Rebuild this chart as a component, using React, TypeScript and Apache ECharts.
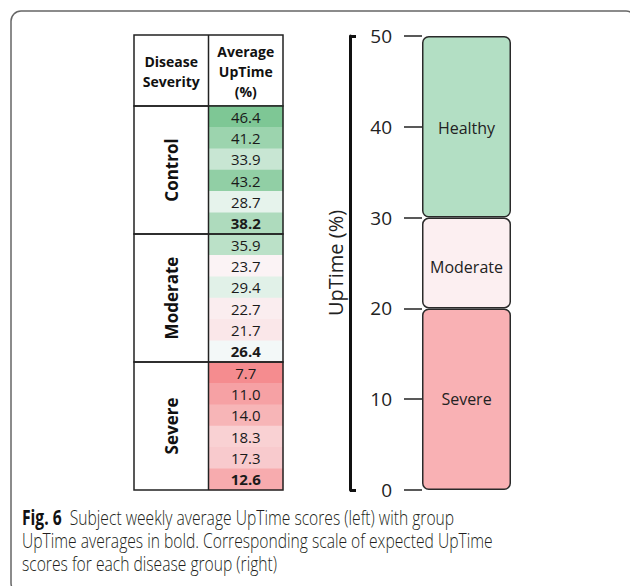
import React, { useEffect, useRef } from 'react';
import * as echarts from 'echarts';

// ---------- data ----------
const groupNames = ['Control', 'Moderate', 'Severe'];
const controlSubjects = [46.4, 41.2, 33.9, 43.2, 28.7];
const controlAverage = 38.2;
const moderateSubjects = [35.9, 23.7, 29.4, 22.7, 21.7];
const moderateAverage = 26.4;
const severeSubjects = [7.7, 11.0, 14.0, 18.3, 17.3];
const severeAverage = 12.6;

const tableHeaders = ['Disease\nSeverity', 'Average\nUpTime\n(%)'];

const scaleNames = ['Severe', 'Moderate', 'Healthy'];
const scaleBounds = [0, 20, 30, 50];
const scaleColors = ['#F9B1B4', '#FCEFF1', '#B3DFC4'];
const scaleLabelOffsets = [0, 4, 1];
const scaleAxisMin = 0;
const scaleAxisMax = 50;
const scaleAxisInterval = 10;
const scaleAxisName = 'UpTime (%)';

const captionBold = 'Fig. 6';
const captionLines = [
  'Subject weekly average UpTime scores (left) with group',
  'UpTime averages in bold. Corresponding scale of expected UpTime',
  'scores for each disease group (right)',
];

// ---------- helpers ----------
const FONT = '"Open Sans", "Noto Sans", sans-serif';
const hex = (c: string) => [1, 3, 5].map((i) => parseInt(c.slice(i, i + 2), 16));
const mix = (a: string, b: string, t: number) => {
  const A = hex(a), B = hex(b);
  return 'rgb(' + A.map((v, i) => Math.round(v + (B[i] - v) * t)).join(',') + ')';
};
const measure = (text: string, font: string) => {
  const ctx = document.createElement('canvas').getContext('2d')!;
  ctx.font = font;
  return ctx.measureText(text).width;
};

export default function App() {
  const ref = useRef<HTMLDivElement>(null);
  useEffect(() => {
    const chart = echarts.init(ref.current!, null, { renderer: 'svg' });

    const groups = [
      { name: groupNames[0], subjects: controlSubjects, average: controlAverage },
      { name: groupNames[1], subjects: moderateSubjects, average: moderateAverage },
      { name: groupNames[2], subjects: severeSubjects, average: severeAverage },
    ];
    const rows: { v: number; bold: boolean }[] = [];
    const ranges: { name: string; start: number; end: number }[] = [];
    groups.forEach((g) => {
      const start = rows.length;
      g.subjects.forEach((v) => rows.push({ v, bold: false }));
      rows.push({ v: g.average, bold: true });
      ranges.push({ name: g.name, start, end: rows.length - 1 });
    });
    const vals = rows.map((r) => r.v);
    const vMin = Math.min(...vals);
    const vMax = Math.max(...vals);
    const sorted = [...vals].sort((a, b) => a - b);
    const n = sorted.length;
    const median = n % 2 ? sorted[(n - 1) / 2] : (sorted[n / 2 - 1] + sorted[n / 2]) / 2;
    const RED = '#F58C8F', WHITE = '#FBFCFE', GREEN = '#7EC795';
    const stops: string[] = [];
    const N = 80;
    for (let i = 0; i <= N; i++) {
      const v = vMin + ((vMax - vMin) * i) / N;
      stops.push(v < median ? mix(RED, WHITE, (v - vMin) / (median - vMin)) : mix(WHITE, GREEN, (v - median) / (vMax - median)));
    }

    const capSize = 21;
    const capFont = `300 ${capSize}px "Open Sans"`;
    const capScale = 471 / measure(captionLines[1], capFont);

    const scaleSizes = scaleNames.map((_, i) => scaleBounds[i + 1] - scaleBounds[i]);

    const option: any = {
      animation: false,
      backgroundColor: '#ffffff',
      grid: [
        { left: 134, top: 106, width: 149, height: 384 },
        { left: 422, top: 36, width: 89, height: 454 },
      ],
      xAxis: [
        {
          gridIndex: 0,
          type: 'category',
          position: 'top',
          data: tableHeaders,
          axisLine: { show: false },
          axisTick: { show: false },
          axisLabel: {
            interval: 0,
            margin: 35,
            verticalAlign: 'middle',
            fontSize: 14,
            fontWeight: 'bold',
            lineHeight: 20,
            color: '#111',
            fontFamily: FONT,
          },
        },
        { gridIndex: 1, type: 'category', data: ['scale'], show: false },
      ],
      yAxis: [
        { gridIndex: 0, type: 'category', inverse: true, data: rows.map((_, i) => String(i)), show: false },
        {
          gridIndex: 1,
          type: 'value',
          min: scaleAxisMin,
          max: scaleAxisMax,
          interval: scaleAxisInterval,
          axisLine: { show: false },
          axisTick: { show: true, length: 18, lineStyle: { color: '#222', width: 1.5 } },
          axisLabel: { margin: 30, fontSize: 19, color: '#222', fontFamily: FONT },
          splitLine: { show: false },
        },
        {
          gridIndex: 1,
          type: 'value',
          position: 'left',
          offset: 72,
          min: scaleAxisMin,
          max: scaleAxisMax,
          interval: scaleAxisInterval,
          axisLine: { show: true, lineStyle: { color: '#111', width: 3 } },
          axisTick: { show: true, inside: true, length: 6, customValues: [scaleAxisMin, scaleAxisMax], lineStyle: { color: '#111', width: 3 } },
          axisLabel: { show: false },
          splitLine: { show: false },
          name: scaleAxisName,
          nameLocation: 'middle',
          nameGap: 5,
          nameTextStyle: { fontSize: 20, color: '#222', fontFamily: FONT },
        },
      ],
      visualMap: {
        show: false,
        type: 'continuous',
        seriesIndex: 0,
        dimension: 2,
        min: vMin,
        max: vMax,
        inRange: { color: stops },
      },
      series: [
        {
          type: 'heatmap',
          xAxisIndex: 0,
          yAxisIndex: 0,
          data: rows.map((r, i) => ({ value: [1, i, r.v], label: { fontWeight: r.bold ? 'bold' : 'normal' } })),
          label: {
            show: true,
            formatter: (p: any) => p.value[2].toFixed(1),
            fontSize: 15,
            color: '#1a1a1a',
            fontFamily: FONT,
          },
          itemStyle: { borderWidth: 0 },
          emphasis: { disabled: true },
        },
        {
          type: 'custom',
          xAxisIndex: 0,
          yAxisIndex: 0,
          z: 5,
          data: ranges.map((r) => ({ name: r.name, value: [0, r.start, r.end] })),
          renderItem: (params: any, api: any) => {
            const start = api.value(1);
            const end = api.value(2);
            const c0 = api.coord([0, start]);
            const c1 = api.coord([0, end]);
            const size = api.size([1, 1]);
            const w = size[0], h = size[1];
            const left = c0[0] - w / 2;
            const top = c0[1] - h / 2;
            const bottom = c1[1] + h / 2;
            return {
              type: 'group',
              children: [
                { type: 'rect', shape: { x: left, y: top, width: 2 * w, height: bottom - top }, style: { fill: 'none', stroke: '#222', lineWidth: 1.5 } },
                { type: 'line', shape: { x1: left + w, y1: top, x2: left + w, y2: bottom }, style: { stroke: '#222', lineWidth: 1.5 } },
                {
                  type: 'text',
                  x: c0[0],
                  y: (top + bottom) / 2,
                  rotation: Math.PI / 2,
                  style: {
                    text: ranges[params.dataIndex].name,
                    fontSize: 17,
                    fontWeight: 'bold',
                    fontFamily: FONT,
                    fill: '#111',
                    align: 'center',
                    verticalAlign: 'middle',
                  },
                },
              ],
            };
          },
        },
        ...scaleNames.map((name, i) => ({
          type: 'bar',
          name,
          xAxisIndex: 1,
          yAxisIndex: 1,
          stack: 'scale',
          barWidth: '100%',
          data: [scaleSizes[i]],
          itemStyle: { color: scaleColors[i], borderColor: '#2a2a2a', borderWidth: 1.5, borderRadius: 6 },
          label: { show: true, position: 'inside', offset: [0, scaleLabelOffsets[i]], formatter: name, fontSize: 16, color: '#222', fontFamily: FONT },
          emphasis: { disabled: true },
        })),
      ],
      graphic: [
        {
          type: 'rect',
          z: -10,
          shape: { x: 11, y: 11, width: 625, height: 582, r: 10 },
          style: { fill: 'none', stroke: '#666', lineWidth: 1.5 },
        },
        {
          type: 'rect',
          shape: { x: 134, y: 35, width: 149, height: 71 },
          style: { fill: 'none', stroke: '#222', lineWidth: 1.5 },
        },
        {
          type: 'line',
          shape: { x1: 208.5, y1: 35, x2: 208.5, y2: 106 },
          style: { stroke: '#222', lineWidth: 1.5 },
        },
        {
          type: 'text',
          x: 22,
          y: 516,
          scaleX: capScale,
          style: {
            text: `{b|${captionBold}}  ${captionLines[0]}`,
            fontSize: capSize,
            fontWeight: 300,
            fontFamily: FONT,
            fill: '#231f20',
            verticalAlign: 'middle',
            rich: { b: { fontWeight: 'bold', fontSize: capSize, fontFamily: FONT, fill: '#111' } },
          },
        },
        ...captionLines.slice(1).map((t, i) => ({
          type: 'text',
          x: 22,
          y: 539 + i * 23,
          scaleX: capScale,
          style: { text: t, fontSize: capSize, fontWeight: 300, fontFamily: FONT, fill: '#231f20', verticalAlign: 'middle' },
        })),
      ],
    };
    chart.setOption(option);
    return () => chart.dispose();
  }, []);
  return <div ref={ref} style={{ position: 'fixed', left: 0, top: 0, width: 630, height: 586, background: '#fff' }} />;
}
